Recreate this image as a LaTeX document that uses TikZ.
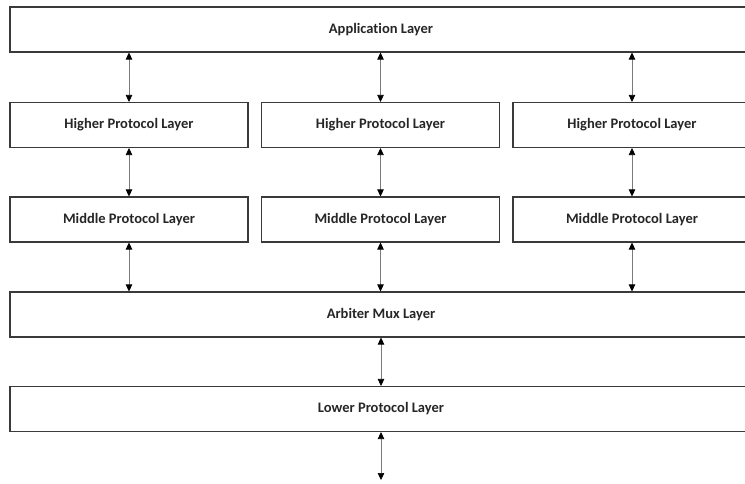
\documentclass[tikz,border=0pt]{standalone}
\usepackage{fontspec}
\setmainfont[Ligatures=NoCommon]{Carlito}
\usetikzlibrary{arrows.meta}
\definecolor{boxline}{HTML}{3A3A3A}
\definecolor{shaft}{HTML}{7A7A7A}
\tikzset{
  layer/.style={draw=boxline, line width=1.1pt, fill=white, inner sep=0pt,
    minimum height=45pt, font=\fontsize{14.5}{16}\selectfont\bfseries, text=black!85},
  wide/.style={layer, minimum width=742pt},
  part/.style={layer, minimum width=238pt},
  link/.style={draw=shaft, line width=0.7pt,
    {Triangle[length=7pt,width=6.5pt,fill=black,color=black]}-{Triangle[length=7pt,width=6.5pt,fill=black,color=black]}}
}
\begin{document}
\begin{tikzpicture}[x=1pt,y=-1pt]
  \clip (0,0) rectangle (745,484);
  \fill[white] (0,0) rectangle (745,484);

  % full-width layers
  \node[wide] (app) at (381,29.5)  {Application Layer};
  \node[wide] (arb) at (381,314.5) {Arbiter Mux Layer};
  \node[wide] (low) at (381,409)   {Lower Protocol Layer};

  % three protocol stacks
  \node[part] (h1) at (129,125) {Higher Protocol Layer};
  \node[part] (h2) at (380.5,125) {Higher Protocol Layer};
  \node[part] (h3) at (632,125) {Higher Protocol Layer};
  \node[part] (m1) at (129,219.5) {Middle Protocol Layer};
  \node[part] (m2) at (380.5,219.5) {Middle Protocol Layer};
  \node[part] (m3) at (632,219.5) {Middle Protocol Layer};

  % connectors between layers
  \foreach \i in {1,2,3} {
    \draw[link] (h\i.north |- app.south) -- (h\i.north);
    \draw[link] (h\i.south) -- (m\i.north);
    \draw[link] (m\i.south) -- (m\i.south |- arb.north);
  }
  \draw[link] (arb.south) -- (low.north);
  \coordinate (out) at (381,480);
  \draw[link] (low.south) -- (out);
\end{tikzpicture}
\end{document}
